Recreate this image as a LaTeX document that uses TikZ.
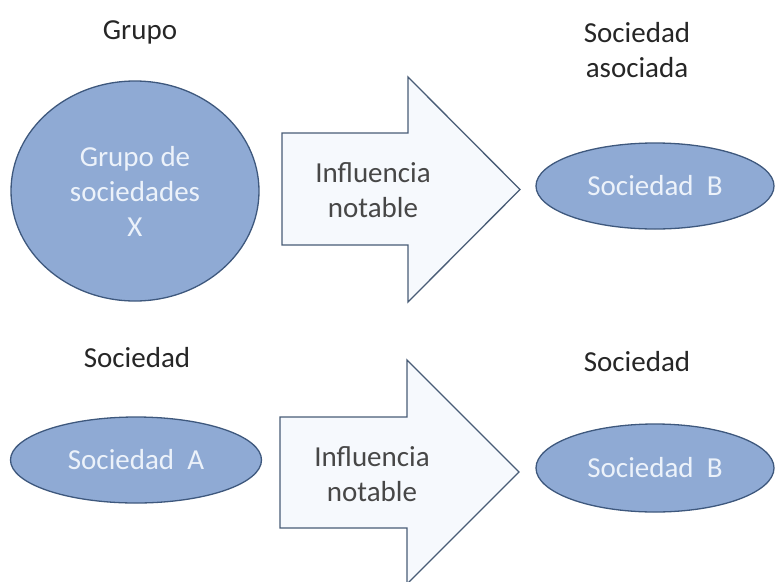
\documentclass[tikz,border=0pt]{standalone}
\usepackage{fontspec}
\setmainfont{Carlito}
\usetikzlibrary{shapes.geometric}
\definecolor{ellfill}{RGB}{143,170,212}
\definecolor{elldraw}{RGB}{62,88,125}
\definecolor{arrfill}{RGB}{246,249,253}
\definecolor{arrdraw}{RGB}{72,92,118}
\definecolor{labtext}{RGB}{38,38,38}
\definecolor{elltext}{RGB}{236,242,250}
\tikzset{
  bigfont/.style={font=\fontsize{29}{35}\selectfont},
  entity/.style={ellipse, draw=elldraw, fill=ellfill, line width=1.3pt, inner sep=0pt,
                 text=elltext, align=center, bigfont},
  caption/.style={text=labtext, align=center, bigfont, inner sep=0pt},
  blockarrow/.style={draw=arrdraw, fill=arrfill, line width=1.3pt, line join=miter},
  arrowtext/.style={text=labtext!85, align=center, bigfont, inner sep=0pt}
}
\begin{document}
\begin{tikzpicture}[x=1pt,y=-1pt]
\useasboundingbox (0,0) rectangle (775,581);
% top row
\node[caption] (lgrupo) at (140,32) {Grupo};
\node[caption] (lasoc) at (637,50) {Sociedad\\asociada};
\node[entity, minimum width=248pt, minimum height=220pt] (grupoX) at (135,191)
  {Grupo de\\sociedades\\X};
\draw[blockarrow] (282,133) -- (408,133) -- (408,77) -- (520,189.5) -- (408,302) -- (408,245) -- (282,245) -- cycle;
\node[arrowtext] (inf1) at (373,190.5) {Influencia\\notable};
\node[entity, minimum width=238pt, minimum height=86pt] (socB1) at (655,186) {Sociedad\ \ B};
% bottom row
\node[caption] (lsocA) at (137,358) {Sociedad};
\node[caption] (lsocB) at (637,362) {Sociedad};
\node[entity, minimum width=251pt, minimum height=86pt] (socA) at (136,460) {Sociedad\ \ A};
\draw[blockarrow] (280,417) -- (407,417) -- (407,360) -- (519,472) -- (407,584) -- (407,528) -- (280,528) -- cycle;
\node[arrowtext] (inf2) at (372,474.5) {Influencia\\notable};
\node[entity, minimum width=238pt, minimum height=88pt] (socB2) at (655,468) {Sociedad\ \ B};
\end{tikzpicture}
\end{document}
